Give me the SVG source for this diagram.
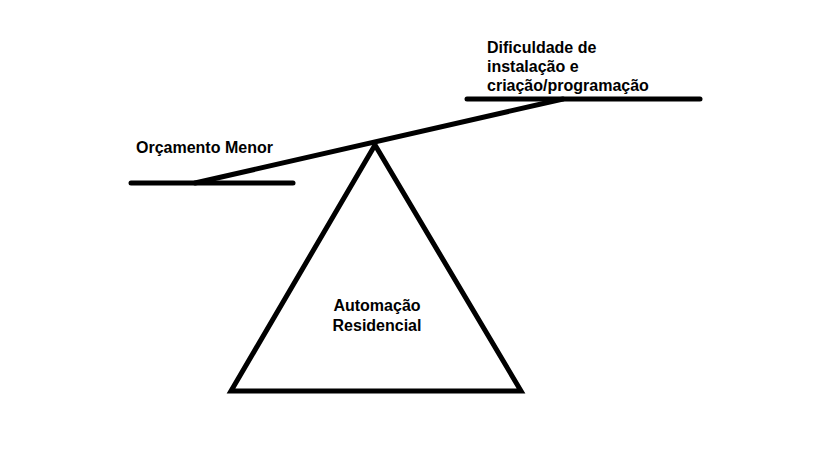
<svg xmlns="http://www.w3.org/2000/svg" width="819" height="460" viewBox="0 0 819 460">
<style>
.ln{stroke:#000;stroke-width:5;fill:none;stroke-linecap:round;stroke-linejoin:miter}
.t{font-family:"Liberation Sans",Arial,sans-serif;font-weight:bold;font-size:16px;fill:#000}
</style>
<rect width="819" height="460" fill="#fff"/>
<g id="connectors">
<line class="ln" x1="131" y1="183" x2="293" y2="183"/>
<line class="ln" x1="467" y1="99" x2="700" y2="99"/>
<line class="ln" x1="195" y1="183" x2="563" y2="99"/>
</g>
<g id="fulcrum">
<polygon class="ln" style="stroke-linecap:butt" points="375,145 231,391 521,391"/>
<text class="t" x="377" y="311" text-anchor="middle">Automação</text>
<text class="t" x="377" y="331" text-anchor="middle">Residencial</text>
</g>
<g id="left-label">
<text class="t" x="136" y="153">Orçamento Menor</text>
</g>
<g id="right-label">
<text class="t" x="487" y="53">Dificuldade de</text>
<text class="t" x="487" y="72">instalação e</text>
<text class="t" x="487" y="91">criação/programação</text>
</g>
</svg>
